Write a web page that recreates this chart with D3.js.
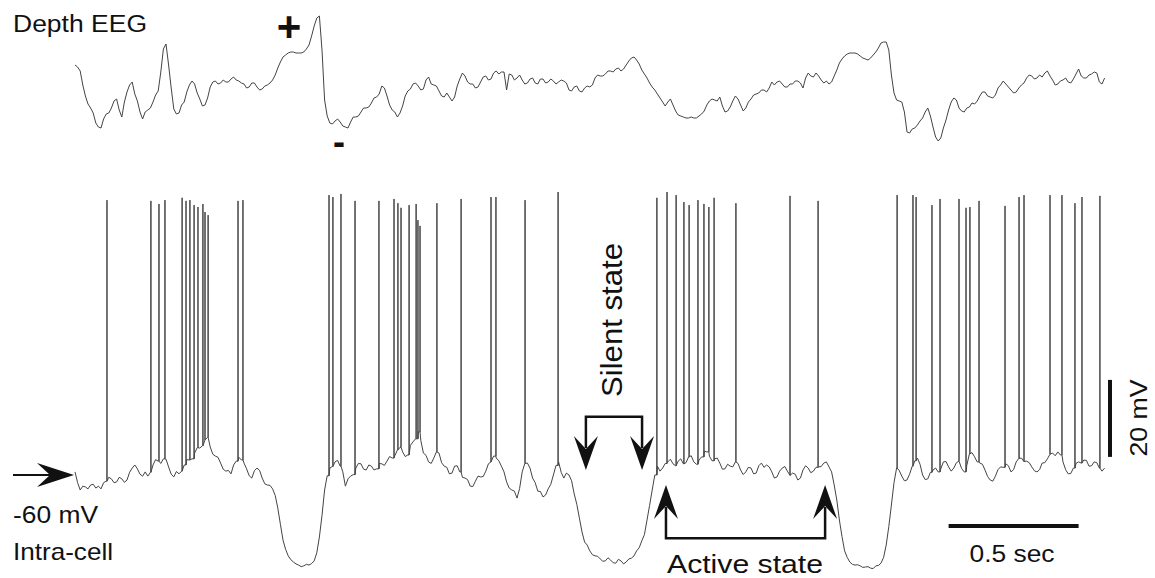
<!DOCTYPE html>
<html>
<head>
<meta charset="utf-8">
<script src="https://cdn.jsdelivr.net/npm/d3@7"></script>
<style>
  body { margin: 0; background: #fff; }
  svg { display: block; }
  text { font-family: "Liberation Sans", Arial, sans-serif; fill: #111; }
</style>
</head>
<body>
<div class="root"></div>
<script>
const w = 1155;
const h = 578;
const dt = 0.01; // sampling step, s

// depth EEG, arbitrary units (positive up), one value every dt
const eegValues = [
  35, 33, 29, 15, 4, -4, -8, -13, -23, -27,
  -28, -19, -14, -13, -8, -1, 1, -10, -17, -2,
  8, 15, 18, 6, -1, -12, -19, -12, -10, -8,
  -2, 5, 9, 28, 51, 56, 35, 12, -9, -14,
  -13, -5, -2, 8, 15, 19, 16, 7, 1, -6,
  -5, 2, 13, 18, 19, 16, 17, 20, 18, 18,
  21, 23, 20, 19, 17, 16, 12, 13, 17, 17,
  13, 10, 11, 14, 15, 17, 20, 25, 32, 38,
  43, 45, 47, 48, 48, 47, 47, 47, 48, 51,
  55, 64, 74, 82, 84, 50, 0, -16, -23, -24,
  -21, -19, -22, -26, -27, -28, -22, -17, -17, -16,
  -12, -8, -8, -7, -3, 2, 3, 6, 14, 12,
  4, -5, -10, -12, -17, -13, -6, 4, 9, 11,
  16, 17, 14, 10, 11, 20, 23, 16, 15, 14,
  9, 4, 3, 7, 3, -1, 3, 14, 21, 27,
  24, 18, 16, 16, 12, 13, 18, 23, 24, 20,
  21, 27, 29, 26, 28, 28, 10, 26, 25, 20,
  22, 25, 20, 16, 17, 21, 22, 17, 16, 21,
  21, 17, 18, 21, 19, 16, 18, 20, 19, 17,
  10, 9, 13, 14, 9, 8, 12, 14, 13, 15,
  22, 25, 24, 24, 26, 29, 29, 28, 31, 32,
  29, 31, 35, 39, 42, 43, 40, 36, 30, 26,
  22, 17, 13, 10, 6, 2, -2, -6, -2, 1,
  -5, -11, -15, -16, -17, -18, -18, -17, -18, -18,
  -16, -14, -11, -5, -1, 1, 0, -1, 3, -6,
  -12, -11, -7, -1, 4, 1, -5, -11, -8, -2,
  1, 5, 6, 7, 10, 10, 8, 12, 18, 15,
  18, 19, 16, 13, 13, 16, 16, 19, 19, 17,
  12, 22, 27, 24, 23, 27, 24, 20, 17, 19,
  16, 18, 24, 30, 37, 41, 44, 46, 47, 47,
  47, 46, 44, 42, 41, 40, 42, 45, 48, 52,
  57, 58, 58, 50, 25, 7, 0, -1, -2, -12,
  -32, -33, -29, -28, -25, -21, -18, -12, -8, -16,
  -27, -37, -41, -38, -28, -20, -10, -2, 2, 0,
  -8, -11, -12, -8, -7, -3, -4, -1, 4, 8,
  8, 4, 3, 2, 5, 12, 15, 19, 16, 13,
  10, 7, 8, 12, 15, 17, 22, 25, 24, 21,
  22, 25, 23, 27, 29, 24, 20, 15, 16, 19,
  20, 22, 18, 17, 21, 26, 31, 24, 22, 22,
  25, 26, 28, 27, 18, 16, 22
];

// intracellular membrane potential (mV), one value every dt
const vmValues = [
  -59.2, -62.0, -63.9, -62.9, -63.1, -63.6, -62.6, -62.4, -63.4, -62.9,
  -63.6, -62.0, -61.6, -60.6, -61.0, -62.0, -61.8, -60.6, -61.0, -61.9,
  -61.3, -59.3, -58.2, -57.4, -58.4, -59.8, -60.3, -59.2, -60.3, -59.3,
  -57.4, -56.0, -56.4, -57.0, -55.8, -55.9, -57.9, -59.8, -60.5, -59.1,
  -59.7, -59.0, -57.4, -56.0, -56.1, -55.8, -54.3, -52.9, -53.0, -52.4,
  -50.9, -50.2, -52.7, -54.6, -55.1, -55.4, -56.9, -58.5, -59.0, -58.8,
  -59.7, -57.4, -56.4, -55.4, -56.1, -56.9, -58.4, -60.2, -60.8, -58.9,
  -58.2, -58.8, -60.8, -62.3, -62.6, -62.7, -63.6, -65.3, -68.6, -72.8,
  -76.9, -79.3, -81.0, -82.0, -82.6, -83.1, -83.4, -83.8, -83.6, -83.2,
  -83.4, -83.0, -82.3, -80.2, -76.1, -70.5, -63.9, -60.2, -58.2, -57.8,
  -56.6, -56.2, -57.7, -59.2, -62.9, -61.0, -60.3, -59.9, -58.2, -57.0,
  -57.1, -58.5, -58.7, -57.4, -57.7, -58.7, -58.4, -57.0, -57.1, -57.5,
  -56.4, -55.2, -55.6, -55.0, -53.5, -52.8, -54.0, -55.2, -54.8, -52.3,
  -51.4, -50.6, -48.8, -51.0, -54.3, -54.9, -56.6, -57.0, -55.6, -54.0,
  -54.3, -56.8, -57.7, -58.0, -59.7, -59.5, -57.7, -57.6, -59.2, -60.6,
  -60.8, -61.2, -62.9, -63.0, -61.6, -60.3, -60.5, -60.4, -59.0, -57.1,
  -56.6, -55.1, -55.6, -56.3, -57.7, -59.2, -61.8, -63.4, -63.9, -64.2,
  -66.0, -63.5, -59.2, -57.0, -56.9, -58.2, -60.8, -62.0, -64.2, -64.3,
  -65.7, -65.2, -63.6, -62.4, -60.0, -57.5, -56.6, -59.3, -60.8, -59.5,
  -60.0, -61.5, -64.9, -67.6, -71.2, -74.8, -77.4, -78.2, -79.7, -80.7,
  -81.0, -81.1, -81.8, -82.4, -82.3, -81.5, -82.1, -82.8, -82.9, -81.9,
  -82.3, -83.1, -82.6, -81.8, -81.6, -81.0, -79.7, -78.9, -77.1, -75.5,
  -71.7, -67.9, -63.9, -60.0, -57.7, -59.0, -58.2, -57.0, -56.6, -55.9,
  -57.1, -57.6, -56.4, -55.8, -57.1, -56.8, -55.3, -55.0, -56.6, -57.2,
  -56.1, -55.3, -53.8, -54.0, -55.1, -56.3, -55.8, -55.6, -56.9, -58.5,
  -58.4, -57.2, -57.7, -57.9, -56.6, -57.0, -58.7, -59.9, -59.2, -58.0,
  -58.2, -59.7, -59.5, -57.6, -56.9, -58.0, -57.4, -57.9, -59.2, -60.8,
  -60.5, -59.0, -58.2, -57.8, -59.0, -60.1, -59.5, -59.8, -61.3, -60.8,
  -58.7, -57.6, -58.2, -59.4, -59.0, -58.0, -57.9, -57.8, -56.9, -56.6,
  -57.9, -59.2, -62.6, -66.5, -71.7, -76.0, -79.7, -81.4, -82.6, -83.2,
  -83.4, -83.3, -83.6, -84.0, -83.9, -83.8, -84.2, -84.3, -83.6, -83.5,
  -82.9, -81.4, -78.2, -73.4, -67.8, -62.0, -58.2, -58.8, -60.3, -61.5,
  -61.3, -59.8, -57.7, -56.3, -55.6, -57.2, -60.0, -61.2, -61.0, -59.3,
  -58.7, -58.2, -59.2, -58.4, -56.6, -56.5, -57.9, -59.0, -58.2, -56.8,
  -56.4, -58.3, -59.2, -57.5, -54.5, -54.2, -55.3, -56.6, -56.9, -57.2,
  -58.7, -60.4, -61.3, -61.6, -60.3, -58.6, -57.9, -58.0, -57.1, -57.6,
  -59.2, -58.6, -56.6, -55.7, -55.6, -56.5, -56.4, -56.8, -57.9, -58.9,
  -59.2, -58.6, -56.9, -56.8, -55.8, -54.6, -54.3, -55.0, -54.0, -54.8,
  -56.6, -58.6, -59.7, -59.6, -58.2, -57.0, -56.6, -56.9, -56.1, -56.2,
  -57.7, -57.6, -56.6, -56.8, -58.2, -59.0, -58.2
];

// action potentials: time (s) and peak (mV)
const spikeTimes = [
  0.123, 0.292, 0.323, 0.346, 0.412, 0.427, 0.442, 0.458, 0.473, 0.492,
  0.500, 0.512, 0.627, 0.646, 0.977, 0.992, 1.023, 1.077, 1.169, 1.227,
  1.242, 1.254, 1.285, 1.312, 1.319, 1.327, 1.392, 1.485, 1.600, 1.619,
  1.731, 1.858, 2.238, 2.277, 2.312, 2.342, 2.362, 2.396, 2.419, 2.438,
  2.458, 2.542, 2.750, 2.858, 3.162, 3.223, 3.235, 3.296, 3.327, 3.400,
  3.427, 3.442, 3.477, 3.577, 3.631, 3.650, 3.750, 3.796, 3.846, 3.873,
  3.942
];
const spikePeaks = [
  11.4, 11.2, 10.4, 11.4, 12.0, 11.2, 11.4, 10.1, 9.6, 10.4,
  8.3, 7.5, 11.2, 11.4, 12.7, 12.2, 13.0, 11.2, 11.2, 11.7,
  10.6, 9.4, 10.1, 10.4, 6.2, 4.7, 10.6, 11.7, 12.2, 12.2,
  11.4, 13.5, 12.0, 13.5, 12.7, 10.9, 10.1, 11.4, 10.4, 9.6,
  12.0, 10.6, 12.5, 11.2, 12.7, 12.7, 12.2, 10.1, 11.7, 11.7,
  9.4, 9.6, 11.2, 9.9, 12.2, 12.7, 12.7, 12.7, 10.6, 12.2,
  12.5
];

// up/down state boundaries marked by the arrows (s)
const silentEdges = [1.965, 2.181];
const activeEdges = [2.273, 2.885];

const svg = d3.select(".root")
              .append("svg")
              .attr("width", w)
              .attr("height", h);

svg.append("rect").attr("width", w).attr("height", h).attr("fill", "#fff");

// scales: 0.5 s = 130 px, 20 mV = 77 px
const xScale = d3.scaleLinear().domain([0, 4]).range([75, 1115]);
const eegScale = d3.scaleLinear().domain([-50, 100]).range([150, 0]);
const vmScale = d3.scaleLinear().domain([-60, -40]).range([475, 398]);

// EEG trace
const eegLine = d3.line()
                  .x((d, i) => xScale(i * dt))
                  .y(d => eegScale(d));

svg.append("path")
   .datum(eegValues)
   .attr("d", eegLine)
   .attr("fill", "none")
   .attr("stroke", "#444")
   .attr("stroke-width", 1)
   .attr("stroke-linejoin", "round");

// intracellular trace with spikes inserted
const vmPoints = [];
vmValues.forEach((v, i) => {
  const t = i * dt;
  vmPoints.push([t, v]);
  spikeTimes.forEach((s, k) => {
    if (s >= t && s < t + dt) {
      vmPoints.push([s, v]);
      vmPoints.push([s, spikePeaks[k]]);
      vmPoints.push([s, v]);
    }
  });
});

const vmLine = d3.line()
                 .x(d => xScale(d[0]))
                 .y(d => vmScale(d[1]));

svg.append("path")
   .datum(vmPoints)
   .attr("d", vmLine)
   .attr("fill", "none")
   .attr("stroke", "#444")
   .attr("stroke-width", 1)
   .attr("stroke-linejoin", "round");

// arrowhead (stealth shape) pointing along (dx, dy)
function arrowHead(tx, ty, dx, dy, len, half, notch) {
  const bx = tx - dx * len, by = ty - dy * len;
  const px = -dy, py = dx;
  const nx = tx - dx * (len - notch), ny = ty - dy * (len - notch);
  return "M" + tx + "," + ty +
         "L" + (bx + px * half) + "," + (by + py * half) +
         "L" + nx + "," + ny +
         "L" + (bx - px * half) + "," + (by - py * half) + "Z";
}

const ink = "#111";

// -60 mV arrow
const y60 = vmScale(-60);
svg.append("line")
   .attr("x1", 13).attr("x2", 52)
   .attr("y1", y60).attr("y2", y60)
   .attr("stroke", ink).attr("stroke-width", 2);
svg.append("path")
   .attr("d", arrowHead(xScale(0) - 1, y60, 1, 0, 37, 12, 13))
   .attr("fill", ink);

// silent state bracket
const sBar = vmScale(-44.9), sTip = vmScale(-58.7);
const sx = silentEdges.map(xScale);
svg.append("path")
   .attr("d", "M" + sx[0] + "," + (sTip - 22) + "V" + sBar + "H" + sx[1] + "V" + (sTip - 22))
   .attr("fill", "none").attr("stroke", ink).attr("stroke-width", 2.5);
sx.forEach(xx => {
  svg.append("path").attr("d", arrowHead(xx, sTip, 0, 1, 34, 12, 13)).attr("fill", ink);
});

// active state bracket
const aBar = vmScale(-76.4), aTip = vmScale(-62.6);
const ax = activeEdges.map(xScale);
svg.append("path")
   .attr("d", "M" + ax[0] + "," + (aTip + 22) + "V" + aBar + "H" + ax[1] + "V" + (aTip + 22))
   .attr("fill", "none").attr("stroke", ink).attr("stroke-width", 2.5);
ax.forEach(xx => {
  svg.append("path").attr("d", arrowHead(xx, aTip, 0, -1, 34, 12, 13)).attr("fill", ink);
});

// scale bars
svg.append("line")
   .attr("x1", xScale(3.36)).attr("x2", xScale(3.86))
   .attr("y1", 526).attr("y2", 526)
   .attr("stroke", ink).attr("stroke-width", 4);
svg.append("line")
   .attr("x1", 1110).attr("x2", 1110)
   .attr("y1", vmScale(-55.3)).attr("y2", vmScale(-35.3))
   .attr("stroke", ink).attr("stroke-width", 4);

// labels
function label(txt, x, y, size, len, anchor) {
  return svg.append("text")
            .attr("x", x).attr("y", y)
            .attr("font-size", size)
            .attr("text-anchor", anchor || "start")
            .attr("textLength", len)
            .attr("lengthAdjust", "spacingAndGlyphs")
            .text(txt);
}

label("Depth EEG", 13, 32, 23, 134);
label("-60 mV", 13, 523, 23, 85);
label("Intra-cell", 13, 560, 24, 100);
label("0.5 sec", 1012, 562, 24, 85, "middle");
label("Active state", 745, 573, 26, 156, "middle");

svg.append("text")
   .attr("transform", "translate(622,320) rotate(-90)")
   .attr("font-size", 30)
   .attr("text-anchor", "middle")
   .attr("textLength", 154)
   .attr("lengthAdjust", "spacingAndGlyphs")
   .text("Silent state");

svg.append("text")
   .attr("transform", "translate(1147,418) rotate(-90)")
   .attr("font-size", 24)
   .attr("text-anchor", "middle")
   .attr("textLength", 77)
   .attr("lengthAdjust", "spacingAndGlyphs")
   .text("20 mV");

// polarity marks on the EEG
svg.append("text")
   .attr("x", 289).attr("y", 41)
   .attr("font-size", 42).attr("font-weight", "bold")
   .attr("text-anchor", "middle")
   .text("+");
svg.append("text")
   .attr("x", 339).attr("y", 154)
   .attr("font-size", 36).attr("font-weight", "bold")
   .attr("text-anchor", "middle")
   .text("-");
</script>
</body>
</html>
